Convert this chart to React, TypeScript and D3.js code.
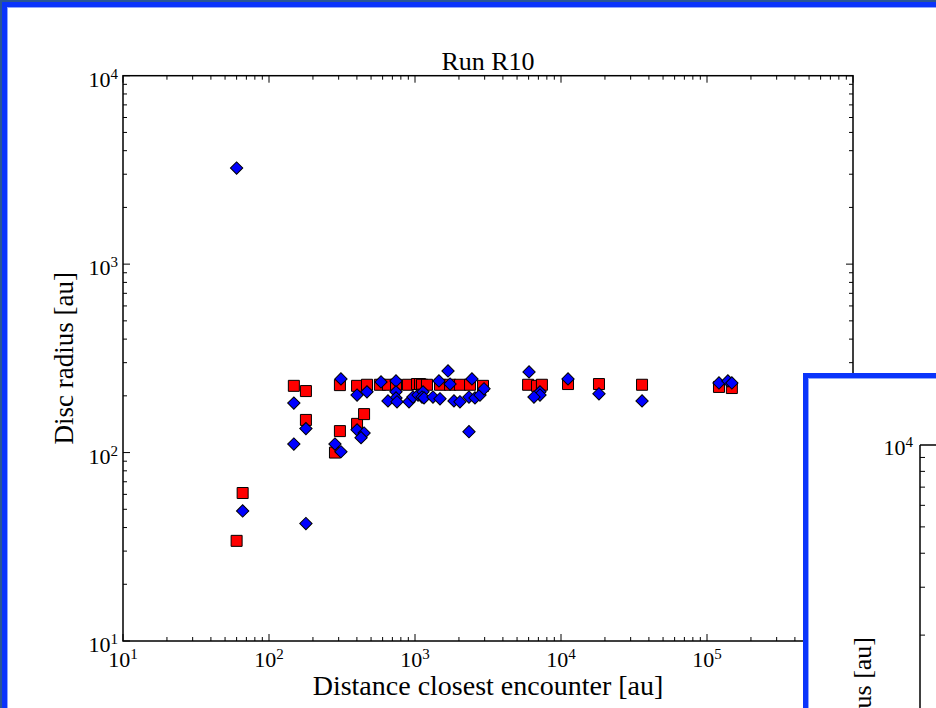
import React from "react";
import * as d3 from "d3";

// ---- data ----
const redX = [60, 66, 148, 179, 179, 283, 306, 306, 401, 401, 448, 469, 575, 653, 741, 895, 1032, 1082, 1117, 1208, 1483, 1738, 2032, 2382, 2923, 5950, 6850, 7400, 11170, 18200, 35900, 120800, 148000];
const redY = [34, 61, 226, 212, 149, 100, 130, 228, 226, 142, 160, 229, 229, 229, 229, 229, 231, 231, 229, 229, 229, 229, 229, 229, 226, 229, 226, 229, 231, 231, 229, 223, 220];

const blueX = [60, 66, 179, 148, 148, 179, 283, 311, 311, 401, 469, 401, 448, 427, 585, 741, 741, 741, 653, 753, 910, 968, 1049, 1135, 1117, 1153, 1328, 1459, 1483, 1683, 1738, 1849, 2032, 2343, 2575, 2787, 2970, 2455, 2343, 6040, 7180, 7180, 6530, 11170, 18200, 35900, 120800, 139000, 148000];
const blueY = [3236, 49, 42, 183, 111, 134, 111, 101, 246, 202, 210, 132, 127, 120, 237, 240, 210, 195, 188, 186, 186, 197, 202, 210, 197, 195, 197, 240, 193, 271, 231, 188, 186, 197, 195, 202, 218, 246, 129, 268, 210, 202, 197, 246, 205, 188, 234, 240, 234];

const xTickExps = [1, 2, 3, 4, 5, 6];
const yTickExps = [1, 2, 3, 4];
const title = "Run R10";
const xLabel = "Distance closest encounter [au]";
const yLabel = "Disc radius [au]";
const insetYLabel = "Disc radius [au]";

const FONT = "'Liberation Serif', 'DejaVu Serif', serif";

export default function App() {
  const L = 123, R = 853, T = 75.7, B = 641;
  const x = d3.scaleLog().domain([10, 1e6]).range([L, R]);
  const y = d3.scaleLog().domain([10, 1e4]).range([B, T]);

  const xMinor: number[] = [];
  for (let e = 1; e < 6; e++) for (let k = 2; k <= 9; k++) xMinor.push(k * Math.pow(10, e));
  const yMinor: number[] = [];
  for (let e = 1; e < 4; e++) for (let k = 2; k <= 9; k++) yMinor.push(k * Math.pow(10, e));

  const square = d3.symbol().type(d3.symbolSquare).size(121)()!;
  const diamond = d3.symbol().type(d3.symbolSquare).size(76)()!;

  // inset axis (second panel, partially visible)
  const iy = d3.scaleLog().domain([1e3, 1e4]).range([445 + 272, 445]);
  const iMinor: number[] = [];
  for (let k = 2; k <= 9; k++) iMinor.push(k * 1e3);

  const maj = 7, mnr = 4;

  return (
    <div style={{ position: "fixed", left: 0, top: 0, width: 936, height: 708, overflow: "hidden" }}>
      <svg width={936} height={708} style={{ display: "block" }} fontFamily={FONT}>
        <defs>
          <clipPath id="insetClip">
            <rect x={809} y={379} width={127} height={329} />
          </clipPath>
        </defs>
        {/* outer frame */}
        <rect x={0} y={0} width={936} height={708} fill="#2a5694" />
        <rect x={2} y={2} width={940} height={720} fill="#0a34fb" />
        <rect x={7} y={7} width={940} height={720} fill="#8fa6ff" />
        <rect x={8} y={8} width={940} height={720} fill="#ffffff" />

        {/* title */}
        <text x={(L + R) / 2} y={70} textAnchor="middle" fontSize={26}>{title}</text>

        {/* points */}
        <g>
          {redX.map((v, i) => (
            <path key={"r" + i} d={square} transform={`translate(${x(v)},${y(redY[i])})`} fill="#ff0000" stroke="#000" strokeWidth={1} />
          ))}
          {blueX.map((v, i) => (
            <path key={"b" + i} d={diamond} transform={`translate(${x(v)},${y(blueY[i])}) rotate(45)`} fill="#0000ff" stroke="#000" strokeWidth={1} />
          ))}
        </g>

        {/* ticks */}
        <g stroke="#000" strokeWidth={1}>
          {xTickExps.map((e) => {
            const px = x(Math.pow(10, e));
            return (
              <g key={"xt" + e}>
                <line x1={px} x2={px} y1={B} y2={B - maj} />
                <line x1={px} x2={px} y1={T} y2={T + maj} />
              </g>
            );
          })}
          {xMinor.map((v, i) => {
            const px = x(v);
            return (
              <g key={"xm" + i}>
                <line x1={px} x2={px} y1={B} y2={B - mnr} />
                <line x1={px} x2={px} y1={T} y2={T + mnr} />
              </g>
            );
          })}
          {yTickExps.map((e) => {
            const py = y(Math.pow(10, e));
            return (
              <g key={"yt" + e}>
                <line x1={L} x2={L + maj} y1={py} y2={py} />
                <line x1={R} x2={R - maj} y1={py} y2={py} />
              </g>
            );
          })}
          {yMinor.map((v, i) => {
            const py = y(v);
            return (
              <g key={"ym" + i}>
                <line x1={L} x2={L + mnr} y1={py} y2={py} />
                <line x1={R} x2={R - mnr} y1={py} y2={py} />
              </g>
            );
          })}
        </g>

        {/* spines */}
        <rect x={L} y={T} width={R - L} height={B - T} fill="none" stroke="#000" strokeWidth={1.5} />

        {/* tick labels */}
        {xTickExps.map((e) => (
          <text key={"xl" + e} x={x(Math.pow(10, e))} y={667} textAnchor="middle" fontSize={22}>
            10<tspan dy={-8} fontSize={15}>{e}</tspan>
          </text>
        ))}
        {yTickExps.map((e) => (
          <text key={"yl" + e} x={118} y={y(Math.pow(10, e)) + 11} textAnchor="end" fontSize={22}>
            10<tspan dy={-8} fontSize={15}>{e}</tspan>
          </text>
        ))}

        {/* axis labels */}
        <text x={(L + R) / 2} y={695} textAnchor="middle" fontSize={28}>{xLabel}</text>
        <text transform={`translate(73,${(T + B) / 2}) rotate(-90)`} textAnchor="middle" fontSize={27}>{yLabel}</text>

        {/* second panel overlapping at bottom right */}
        <g>
          <rect x={803} y={373} width={200} height={400} fill="#0a34fb" />
          <rect x={808} y={378} width={200} height={400} fill="#8fa6ff" />
          <rect x={809} y={379} width={200} height={400} fill="#ffffff" />
          <g stroke="#000" strokeWidth={1.5}>
            <line x1={920} x2={920} y1={445} y2={720} />
            <line x1={920} x2={940} y1={445} y2={445} />
          </g>
          <g stroke="#000" strokeWidth={1}>
            {iMinor.map((v, i) => (
              <line key={"im" + i} x1={920} x2={925} y1={iy(v)} y2={iy(v)} />
            ))}
          </g>
          <text x={913} y={455} textAnchor="end" fontSize={22}>
            10<tspan dy={-8} fontSize={15}>4</tspan>
          </text>
          <g clipPath="url(#insetClip)">
            <text transform={`translate(871,637) rotate(-90)`} textAnchor="end" fontSize={26}>{insetYLabel}</text>
          </g>
        </g>
      </svg>
    </div>
  );
}
